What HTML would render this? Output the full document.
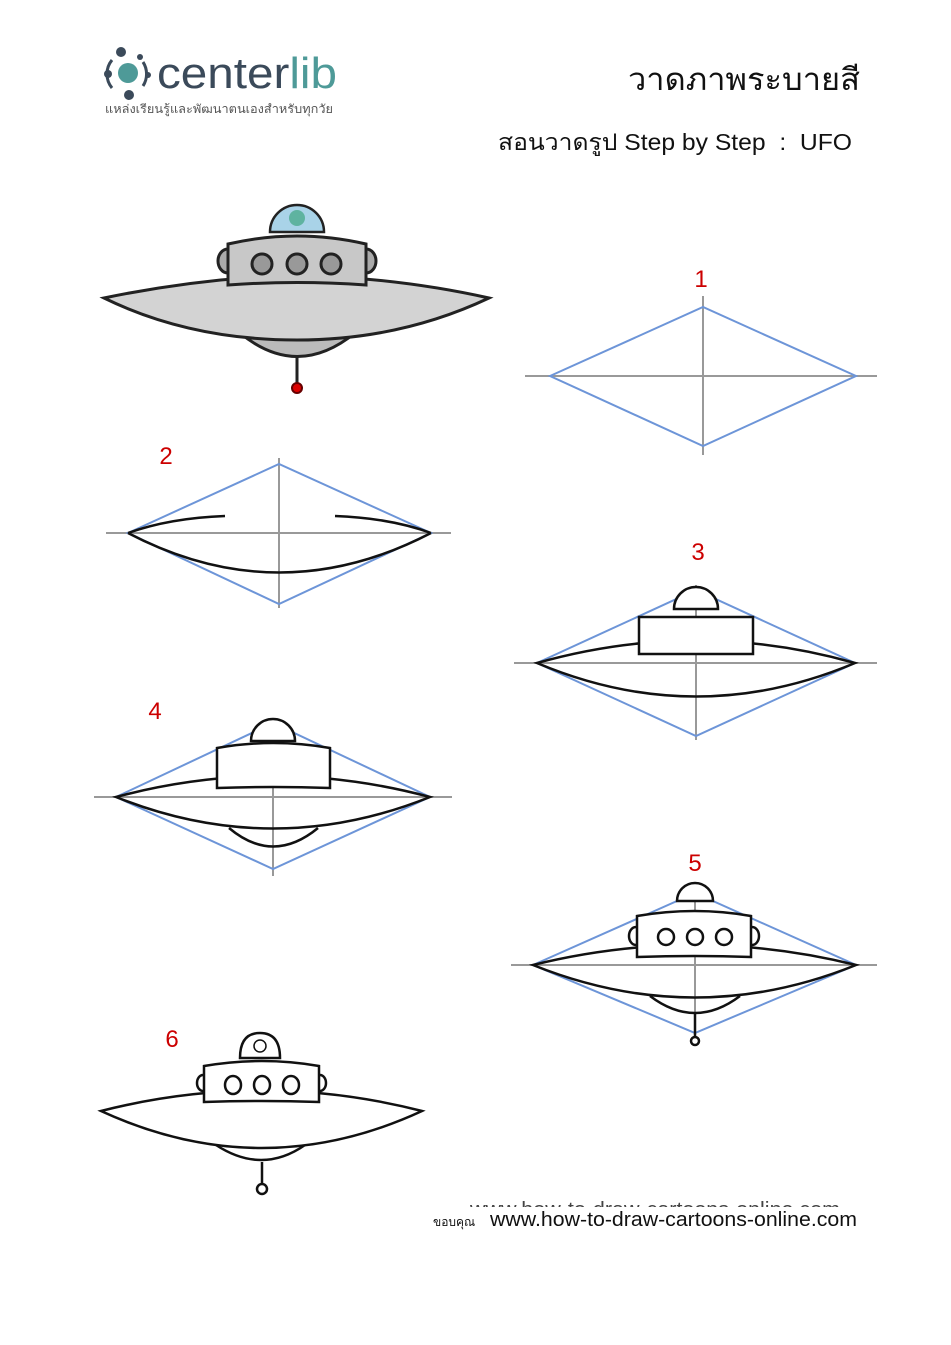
<!DOCTYPE html>
<html><head><meta charset="utf-8"><style>
body{margin:0;background:#fff;width:951px;height:1345px;overflow:hidden}
svg{position:absolute;left:0;top:0}
text{font-family:"Liberation Sans","Noto Sans CJK SC",sans-serif}
</style></head><body>
<svg width="951" height="1345" viewBox="0 0 951 1345">
<!-- logo -->
<g>
<circle cx="128" cy="73" r="10" fill="#4e9a98"/>
<path d="M112 60 A22 22 0 0 0 112 88" fill="none" stroke="#3b4a5a" stroke-width="3"/>
<path d="M143 62 A22 22 0 0 1 143 86" fill="none" stroke="#3b4a5a" stroke-width="3"/>
<circle cx="121" cy="52" r="5" fill="#3b4a5a"/><circle cx="140" cy="57" r="3" fill="#3b4a5a"/>
<circle cx="108" cy="74" r="4" fill="#3b4a5a"/><circle cx="129" cy="95" r="5" fill="#3b4a5a"/><circle cx="148" cy="75" r="3" fill="#3b4a5a"/>
<text x="157" y="88" font-size="44" fill="#3b4a5a" textLength="180" lengthAdjust="spacingAndGlyphs">center<tspan fill="#4e9a98">lib</tspan></text>
<text x="105" y="113" font-size="12" fill="#555" textLength="228" lengthAdjust="spacingAndGlyphs">แหล่งเรียนรู้และพัฒนาตนเองสำหรับทุกวัย</text>
</g>
<text x="628" y="90" font-size="31" fill="#111" textLength="232" lengthAdjust="spacingAndGlyphs">วาดภาพระบายสี</text>
<text x="498" y="150" font-size="23" fill="#111" textLength="354" lengthAdjust="spacingAndGlyphs">สอนวาดรูป Step by Step&#160; : &#160;UFO</text>

<!-- colored UFO -->
<g stroke="#222" stroke-width="3" fill="#c8c8c8">
<path d="M240 333 Q297 380 355 333 Z" fill="#bbb"/>
<line x1="297" y1="355" x2="297" y2="386"/>
<circle cx="297" cy="388" r="5" fill="#d00" stroke="#600" stroke-width="2"/>
<path d="M104 298 Q200 278 297 275 Q400 278 489 298 Q400 340 297 340 Q190 340 104 298 Z" fill="#d3d3d3"/>
<path d="M270 232 A27 27 0 0 1 324 232 Z" fill="#a9d3e8" stroke-width="2.5"/>
<circle cx="297" cy="218" r="8" fill="#5fb3a0" stroke="none"/>
<ellipse cx="228" cy="261" rx="10" ry="12" fill="#aaa"/><ellipse cx="366" cy="261" rx="10" ry="12" fill="#aaa"/>
<path d="M228 244 Q297 228 366 244 L366 285 Q297 280 228 285 Z" fill="#c8c8c8"/>
<circle cx="262" cy="264" r="10" fill="#999"/><circle cx="297" cy="264" r="10" fill="#999"/><circle cx="331" cy="264" r="10" fill="#999"/>
</g>

<g font-size="24" fill="#c00" font-family="Liberation Sans">
<text x="701" y="287" text-anchor="middle">1</text>
<text x="166" y="464" text-anchor="middle">2</text>
<text x="698" y="560" text-anchor="middle">3</text>
<text x="155" y="719" text-anchor="middle">4</text>
<text x="695" y="871" text-anchor="middle">5</text>
<text x="172" y="1047" text-anchor="middle">6</text>
</g>

<g fill="none" stroke-width="2">
<line x1="525" y1="376" x2="877" y2="376" stroke="#999"/>
<line x1="703" y1="296" x2="703" y2="455" stroke="#999"/>
<path d="M550 376 L703 307 L856 376 L703 446 Z" stroke="#6d95d8"/>
<line x1="106" y1="533" x2="451" y2="533" stroke="#999"/>
<line x1="279" y1="458" x2="279" y2="608" stroke="#999"/>
<path d="M128 533 L279 464 L431 533 L279 604 Z" stroke="#6d95d8"/>
<g stroke="#111" stroke-width="2.5"><path d="M128 533 Q279 612 431 533"/><path d="M128 533 Q170 518 225 516"/><path d="M431 533 Q390 518 335 516"/></g>
<line x1="514" y1="663" x2="877" y2="663" stroke="#999"/>
<line x1="696" y1="585" x2="696" y2="740" stroke="#999"/>
<path d="M537 663 L696 590 L855 663 L696 736 Z" stroke="#6d95d8"/>
<g stroke="#111" stroke-width="2.5" fill="#fff"><path d="M537 663 Q696 618 855 663 Q696 730 537 663 Z" fill="none"/>
<path d="M674 609 A22 22 0 0 1 718 609 Z"/><rect x="639" y="617" width="114" height="37"/></g>
<line x1="94" y1="797" x2="452" y2="797" stroke="#999"/>
<line x1="273" y1="718" x2="273" y2="876" stroke="#999"/>
<path d="M116 797 L273 723 L430 797 L273 869 Z" stroke="#6d95d8"/>
<g stroke="#111" stroke-width="2.5" fill="#fff"><path d="M229 828 Q273 865 318 828" fill="none"/><path d="M116 797 Q273 755 430 797 Q273 860 116 797 Z" fill="none"/>
<path d="M251 741 A22 22 0 0 1 295 741 Z"/><path d="M217 748 Q273 738 330 748 L330 788 Q273 786 217 788 Z"/></g>
<line x1="511" y1="965" x2="877" y2="965" stroke="#999"/>
<line x1="695" y1="885" x2="695" y2="1040" stroke="#999"/>
<path d="M533 965 L695 893 L856 965 L695 1033 Z" stroke="#6d95d8"/>
<g stroke="#111" stroke-width="2.5" fill="#fff"><path d="M650 996 Q695 1030 740 996" fill="none"/><path d="M533 965 Q695 925 856 965 Q695 1030 533 965 Z" fill="none"/>
<line x1="695" y1="1012" x2="695" y2="1037"/><circle cx="695" cy="1041" r="4"/>
<path d="M677 901 A18 18 0 0 1 713 901 Z"/>
<ellipse cx="636" cy="936" rx="7" ry="9"/><ellipse cx="752" cy="936" rx="7" ry="9"/>
<path d="M637 916 Q695 906 751 916 L751 957 Q695 955 637 957 Z"/>
<circle cx="666" cy="937" r="8"/><circle cx="695" cy="937" r="8"/><circle cx="724" cy="937" r="8"/></g>
<g stroke="#111" stroke-width="2.5" fill="#fff">
<path d="M216 1145 Q262 1175 305 1145" fill="none"/>
<line x1="262" y1="1162" x2="262" y2="1184"/><circle cx="262" cy="1189" r="5"/>
<path d="M101 1111 Q262 1070 422 1111 Q262 1185 101 1111 Z"/>
<path d="M240 1058 Q240 1033 260 1033 Q280 1033 280 1058 Z"/>
<circle cx="260" cy="1046" r="6" stroke-width="1.5"/>
<ellipse cx="203" cy="1083" rx="6" ry="8"/><ellipse cx="320" cy="1083" rx="6" ry="8"/>
<path d="M204 1066 Q262 1056 319 1066 L319 1102 Q262 1100 204 1102 Z"/>
<ellipse cx="233" cy="1085" rx="8" ry="9"/><ellipse cx="262" cy="1085" rx="8" ry="9"/><ellipse cx="291" cy="1085" rx="8" ry="9"/></g>
</g>

<clipPath id="c"><rect x="0" y="1200" width="951" height="8"/></clipPath>
<text x="470" y="1216" font-size="20" fill="#444" textLength="370" lengthAdjust="spacingAndGlyphs" clip-path="url(#c)">www.how-to-draw-cartoons-online.com</text>
<rect x="420" y="1207" width="440" height="6" fill="#fff"/>
<text x="433" y="1226" font-size="12" fill="#111">ขอบคุณ</text>
<text x="490" y="1226" font-size="20" fill="#111" textLength="367" lengthAdjust="spacingAndGlyphs">www.how-to-draw-cartoons-online.com</text>
</svg>
</body></html>
